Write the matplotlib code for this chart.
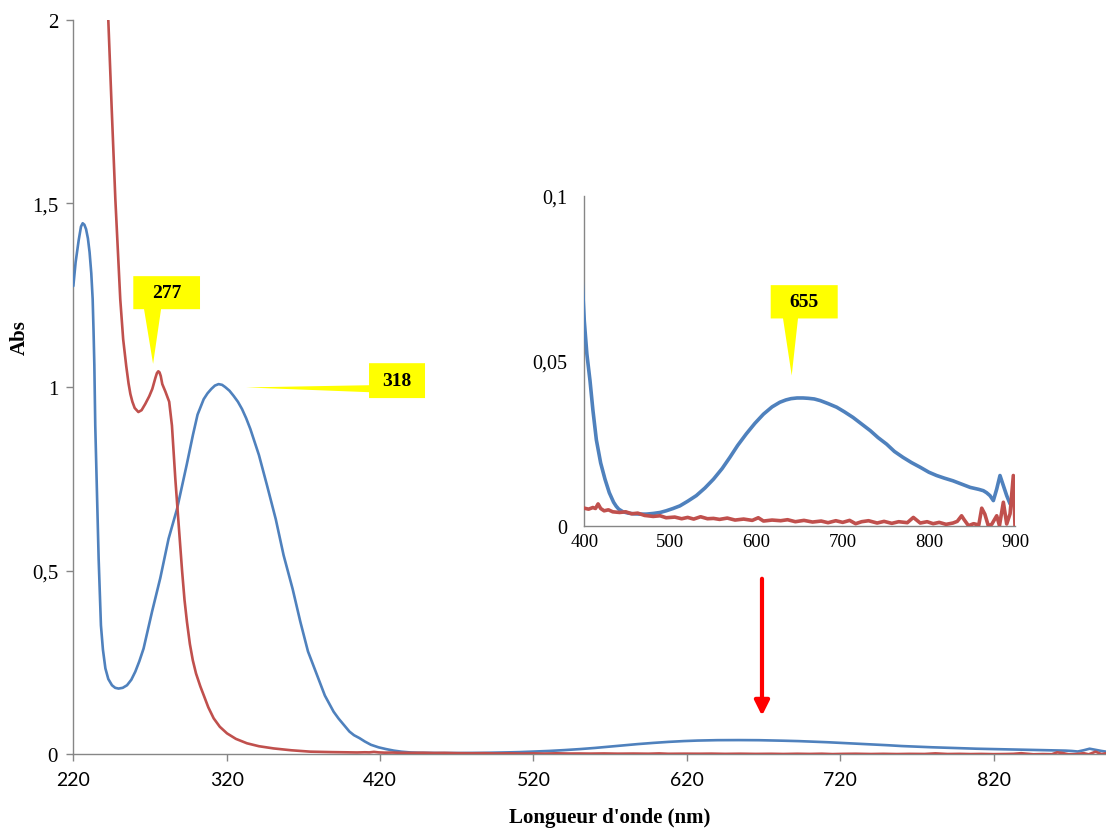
import matplotlib

matplotlib.use("Agg")
import matplotlib.pyplot as plt
from matplotlib.patches import Polygon
from matplotlib.ticker import FuncFormatter

# Absorption spectra (wavelength in nm, absorbance)
blue_nm = [
    220.0, 221.5, 223.5, 225.0, 226.1, 227.2, 228.3, 229.5, 230.6, 231.7,
    232.6, 233.2, 233.7, 234.3, 235.4, 236.5, 238.0, 239.3, 240.9, 242.8,
    245.2, 247.3, 249.5, 252.2, 255.0, 257.8, 260.4, 263.0, 265.8, 271.3,
    276.7, 282.1, 287.6, 294.0, 298.0, 301.0, 305.0, 307.5, 310.0, 312.3,
    314.7, 317.0, 319.0, 321.8, 324.5, 327.3, 330.0, 332.7, 335.4, 341.0,
    346.3, 352.0, 357.1, 363.0, 368.0, 373.0, 378.9, 384.0, 389.7, 393.0,
    396.0, 400.0, 403.0, 406.6, 410.0, 414.0, 419.0, 424.0, 429.0, 434.0,
    437.0, 440.0, 445.0, 451.0, 457.0, 465.0, 472.0, 480.0, 488.0, 495.0,
    503.0, 511.0, 520.0, 530.0, 540.0, 550.0, 560.0, 569.0, 578.0, 588.0,
    598.0, 608.0, 618.0, 627.0, 634.0, 640.0, 647.0, 654.0, 660.0, 667.0,
    674.0, 683.0, 693.0, 702.0, 712.0, 722.0, 732.0, 741.0, 751.0, 760.0,
    770.0, 780.0, 790.0, 800.0, 809.0, 818.0, 828.0, 838.0, 848.0, 858.0,
    863.3, 867.0, 871.0, 874.9, 878.8, 882.6, 886.5, 890.4, 894.3,
]
blue_abs = [
    1.275, 1.340, 1.400, 1.437, 1.446, 1.442, 1.430, 1.405, 1.367, 1.310,
    1.240, 1.150, 1.060, 0.895, 0.714, 0.533, 0.351, 0.285, 0.234, 0.205,
    0.188, 0.181, 0.179, 0.181, 0.188, 0.203, 0.225, 0.253, 0.288, 0.388,
    0.480, 0.587, 0.668, 0.790, 0.870, 0.925, 0.967, 0.983, 0.995, 1.004,
    1.008, 1.006, 1.000, 0.990, 0.976, 0.960, 0.940, 0.915, 0.886, 0.815,
    0.732, 0.640, 0.542, 0.450, 0.361, 0.280, 0.216, 0.160, 0.116, 0.097,
    0.082, 0.062, 0.052, 0.044, 0.035, 0.026, 0.019, 0.0141, 0.0100, 0.0071,
    0.0059, 0.0050, 0.0042, 0.0038, 0.0036, 0.0035, 0.0035, 0.0037, 0.0040, 0.0045,
    0.0052, 0.0060, 0.0074, 0.0091, 0.0114, 0.0141, 0.0173, 0.0207, 0.0243, 0.0278,
    0.0310, 0.0338, 0.0360, 0.0374, 0.0381, 0.0385, 0.0387, 0.0387, 0.0386, 0.0384,
    0.0379, 0.0370, 0.0359, 0.0345, 0.0328, 0.0308, 0.0288, 0.0267, 0.0247, 0.0225,
    0.0207, 0.0191, 0.0177, 0.0162, 0.0152, 0.0144, 0.0136, 0.0126, 0.0116, 0.0110,
    0.0106, 0.0100, 0.0091, 0.0076, 0.0111, 0.0152, 0.0121, 0.0091, 0.0066,
]

red_nm = [
    242.8, 245.0, 247.4, 250.6, 252.5, 254.5, 256.0, 257.2, 258.5, 260.0,
    262.4, 264.5, 266.9, 269.5, 271.5, 273.5, 274.5, 275.4, 276.2, 277.0,
    278.0, 280.0, 282.5, 284.3, 286.5, 288.6, 290.9, 292.5, 294.1, 296.0,
    297.9, 300.0, 302.8, 305.0, 308.0, 311.5, 315.5, 320.2, 326.0, 333.2,
    341.0, 350.6, 362.0, 374.5, 388.0, 400.0, 405.0, 410.0, 413.0, 416.0,
    419.0, 423.0, 428.0, 433.0, 441.0, 448.0, 455.0, 462.0, 470.0, 480.0,
    488.0, 495.0, 505.0, 513.0, 520.0, 527.0, 535.0, 543.0, 550.0, 557.0,
    566.0, 575.0, 585.0, 595.0, 602.0, 608.0, 618.0, 628.0, 636.0, 645.0,
    655.0, 665.0, 675.0, 683.0, 692.0, 700.0, 708.0, 715.0, 722.0, 730.0,
    740.0, 748.0, 757.0, 765.0, 775.0, 782.0, 790.0, 798.0, 805.0, 812.0,
    820.0, 828.0, 833.0, 838.0, 841.0, 846.0, 852.0, 858.0, 861.4, 865.0,
    869.0, 873.0, 878.8, 882.0, 886.5, 890.4, 894.3, 898.1, 900.0,
]
red_abs = [
    2.000, 1.760, 1.511, 1.239, 1.130, 1.057, 1.010, 0.981, 0.960, 0.943,
    0.932, 0.937, 0.954, 0.975, 0.995, 1.025, 1.038, 1.043, 1.040, 1.030,
    1.008, 0.988, 0.960, 0.895, 0.750, 0.630, 0.500, 0.420, 0.360, 0.300,
    0.256, 0.220, 0.185, 0.161, 0.128, 0.098, 0.075, 0.057, 0.042, 0.030,
    0.022, 0.016, 0.011, 0.0072, 0.0060, 0.0053, 0.0050, 0.0055, 0.0052, 0.0066,
    0.0052, 0.0045, 0.0048, 0.0042, 0.0040, 0.0042, 0.0036, 0.0038, 0.0031, 0.0028,
    0.0030, 0.0024, 0.0026, 0.0021, 0.0025, 0.0020, 0.0027, 0.0021, 0.0022, 0.0019,
    0.0023, 0.0017, 0.0020, 0.0016, 0.0024, 0.0014, 0.0017, 0.0015, 0.0018, 0.0012,
    0.0016, 0.0011, 0.0014, 0.0009, 0.0015, 0.0010, 0.0016, 0.0006, 0.0012, 0.0015,
    0.0008, 0.0013, 0.0007, 0.0012, 0.0009, 0.0025, 0.0008, 0.0012, 0.0006, 0.0010,
    0.0004, 0.0008, 0.0013, 0.0030, 0.0018, 0.0000, 0.0006, 0.0002, 0.0053, 0.0035,
    0.0000, 0.0004, 0.0030, 0.0000, 0.0071, 0.0005, 0.0036, 0.0152, 0.0000,
]

main_xticks = [220, 320, 420, 520, 620, 720, 820]
main_yticks = [0, 0.5, 1, 1.5, 2]
inset_xticks = [400, 500, 600, 700, 800, 900]
inset_yticks = [0, 0.05, 0.1]

BLUE = "#4F81BD"
RED = "#C0504D"
AXIS_GREY = "#868686"
SERIF = "Liberation Serif"


def comma(value, _pos):
    return f"{value:g}".replace(".", ",")


def callout(ax, box, pointer, text):
    """Yellow speech bubble: box=(x0, x1, y0, y1); pointer points continue the outline."""
    x0, x1, y0, y1 = box
    if pointer[0][1] == y0:  # pointer hangs from the bottom edge
        outline = [(x0, y1), (x1, y1), (x1, y0)] + pointer + [(x0, y0)]
    else:  # pointer leaves the left edge
        outline = [(x0, y1), (x1, y1), (x1, y0), (x0, y0)] + pointer
    ax.add_patch(Polygon(outline, closed=True, facecolor="#FFFF00", edgecolor="none",
                         clip_on=False, zorder=5))
    ax.text((x0 + x1) / 2, (y0 + y1) / 2, text, ha="center", va="center",
            family=SERIF, fontweight="bold", fontsize=14, zorder=6, clip_on=False)


def style_axes(axes, grey_ticks):
    for side in ("top", "right"):
        axes.spines[side].set_visible(False)
    for side in ("left", "bottom"):
        axes.spines[side].set_color(AXIS_GREY)
        axes.spines[side].set_linewidth(1.0)
    axes.tick_params(axis="both", color=AXIS_GREY, width=1.0, direction="out",
                     length=5 if grey_ticks else 0)
    axes.yaxis.set_major_formatter(FuncFormatter(comma))


fig = plt.figure(figsize=(11.06, 8.29), dpi=100)

# main spectrum
ax = fig.add_axes([0.0663, 0.0889, 0.943, 0.886])
line_kw = dict(solid_joinstyle="round", solid_capstyle="round", zorder=3)
ax.plot(blue_nm, blue_abs, color=BLUE, lw=1.9, **line_kw)
ax.plot(red_nm, red_abs, color=RED, lw=1.9, **line_kw)
ax.set_xlim(220, 900)
ax.set_ylim(0, 2)
ax.set_xticks(main_xticks)
ax.set_yticks(main_yticks)
style_axes(ax, grey_ticks=True)
ax.tick_params(axis="x", labelsize=14, pad=7)
ax.tick_params(axis="y", labelsize=15, pad=6)
for lab in ax.get_xticklabels():
    lab.set_family("Lato")
for lab in ax.get_yticklabels():
    lab.set_family(SERIF)

fig.text(20 / 1106, 1 - 338 / 829, "Abs", rotation=90, ha="center", va="center",
         family=SERIF, fontweight="bold", fontsize=15)
fig.text(610 / 1106, 1 - 818 / 829, "Longueur d'onde (nm)", ha="center", va="center",
         family=SERIF, fontweight="bold", fontsize=15)

# callouts on the main axes
callout(ax, (259.1, 302.6, 1.212, 1.302),
        [(277.2, 1.212), (272.0, 1.063), (266.1, 1.212)], "277")
callout(ax, (412.8, 449.3, 0.970, 1.065),
        [(412.8, 0.986), (332.6, 0.999), (412.8, 1.005)], "318")

# red arrow pointing at the weak band
ax.annotate("", xy=(669, 0.105), xytext=(669, 0.478),
            arrowprops=dict(arrowstyle="-|>", color="#FF0000", lw=3,
                            mutation_scale=22, shrinkA=0, shrinkB=0), zorder=6)

# inset zoom on 400-900 nm
ins = fig.add_axes([0.5283, 0.3647, 0.3894, 0.398])
ins.plot(blue_nm, blue_abs, color=BLUE, lw=2.6, **line_kw)
ins.plot(red_nm, red_abs, color=RED, lw=2.6, **line_kw)
ins.set_xlim(400, 900)
ins.set_ylim(0, 0.1)
ins.set_xticks(inset_xticks)
ins.set_yticks(inset_yticks)
ins.patch.set_alpha(0)
style_axes(ins, grey_ticks=False)
ins.tick_params(axis="x", labelsize=13.5, pad=5)
ins.tick_params(axis="y", labelsize=14.5, pad=12)
for lab in ins.get_xticklabels() + ins.get_yticklabels():
    lab.set_family(SERIF)

callout(ins, (616.4, 694.2, 0.0628, 0.0729),
        [(648.1, 0.0628), (640.8, 0.0455), (630.7, 0.0628)], "655")

fig.savefig("out.png", dpi=100)
